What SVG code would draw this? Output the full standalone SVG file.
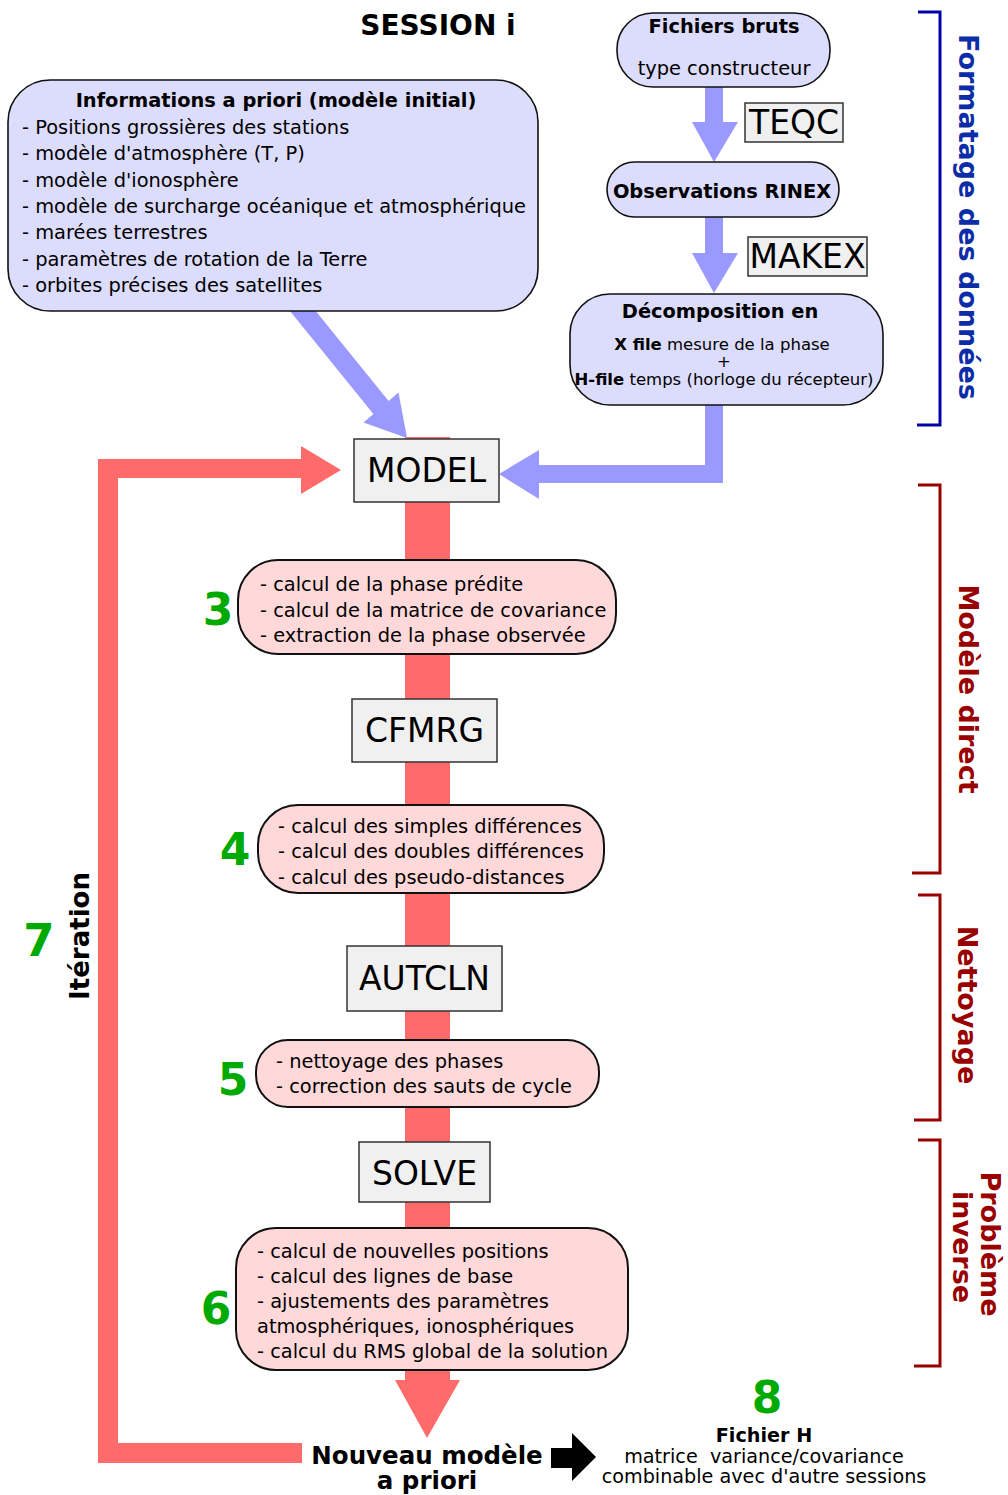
<svg xmlns="http://www.w3.org/2000/svg" width="1008" height="1495" viewBox="0 0 1008 1495">
<style>
text{font-family:"DejaVu Sans","Liberation Sans",sans-serif;fill:#000}
.b{font-weight:bold}
.t19{font-size:19.4px}
.t16{font-size:16.5px}
.prog{fill:#f0f0f0;stroke:#333;stroke-width:1.5}
.prog-t{font-size:33px;text-anchor:middle}
.blue{fill:#dcdcfc;stroke:#111;stroke-width:1.6}
.pink{fill:#ffd9d9;stroke:#111;stroke-width:2}
.num{font-size:44px;font-weight:bold;fill:#00aa00;text-anchor:middle}
.mid{text-anchor:middle}
.barB{fill:none;stroke:#0000aa;stroke-width:3}
.barR{fill:none;stroke:#990000;stroke-width:3}
.side{font-size:27px;font-weight:bold;text-anchor:middle}
</style>

<g id="connectors">
  <!-- red main flow -->
  <rect x="405" y="437" width="45" height="945" fill="#ff6b6b"/>
  <polygon points="395,1380 460,1380 427,1438" fill="#ff6b6b"/>
  <!-- red iteration loop -->
  <polygon points="98,459 301,459 301,446 341,470 301,494 301,478 118,478 118,1443 302,1443 302,1463 98,1463" fill="#ff6b6b"/>
  <!-- blue arrows -->
  <rect x="705" y="80" width="18" height="44" fill="#9999ff"/>
  <polygon points="692,122 738,122 714,162" fill="#9999ff"/>
  <rect x="705" y="210" width="18" height="45" fill="#9999ff"/>
  <polygon points="692,253 738,253 714,293" fill="#9999ff"/>
  <polygon points="705,400 723,400 723,483 539,483 539,499 499,474 539,450 539,465 705,465" fill="#9999ff"/>
  <polygon points="305.6,298.5 388.6,401.1 398.5,392.6 407,438 363.5,422.6 373.4,414.1 290.4,311.5" fill="#9999ff"/>
  <!-- black arrow to H file -->
  <polygon points="551,1448 572,1448 572,1433 596,1457 572,1481 572,1468 551,1468" fill="#000"/>
</g>

<text class="b mid" x="438" y="35" style="font-size:28px">SESSION i</text>

<g id="fichiers-bruts">
  <rect class="blue" x="617" y="13" width="213" height="74" rx="36"/>
  <text class="b t19 mid" x="724" y="33">Fichiers bruts</text>
  <text class="t19 mid" x="724" y="75">type constructeur</text>
</g>
<g id="teqc">
  <rect class="prog" x="745" y="103" width="98" height="39"/>
  <text class="prog-t" x="794" y="134">TEQC</text>
</g>
<g id="observations-rinex">
  <rect class="blue" x="607" y="162" width="232" height="55" rx="27.5"/>
  <text class="b t19 mid" x="722" y="198">Observations RINEX</text>
</g>
<g id="makex">
  <rect class="prog" x="748" y="237" width="119" height="39"/>
  <text class="prog-t" x="807.5" y="268">MAKEX</text>
</g>
<g id="decomposition">
  <rect class="blue" x="570" y="294" width="313" height="111" rx="40"/>
  <text class="b t19 mid" x="720" y="318">Décomposition en</text>
  <text class="t16 mid" x="722" y="350"><tspan class="b">X file</tspan> mesure de la phase</text>
  <text class="t16 mid" x="724" y="367">+</text>
  <text class="t16 mid" x="724" y="385"><tspan class="b">H-file</tspan> temps (horloge du récepteur)</text>
</g>

<g id="informations-a-priori">
  <rect class="blue" x="8" y="80" width="530" height="231" rx="42"/>
  <text class="b t19 mid" x="276" y="107">Informations a priori (modèle initial)</text>
  <text class="t19" x="22" y="134">- Positions grossières des stations</text>
  <text class="t19" x="22" y="160">- modèle d'atmosphère (T, P)</text>
  <text class="t19" x="22" y="187">- modèle d'ionosphère</text>
  <text class="t19" x="22" y="213">- modèle de surcharge océanique et atmosphérique</text>
  <text class="t19" x="22" y="239">- marées terrestres</text>
  <text class="t19" x="22" y="266">- paramètres de rotation de la Terre</text>
  <text class="t19" x="22" y="292">- orbites précises des satellites</text>
</g>

<g id="model">
  <rect class="prog" x="354" y="439" width="145" height="63"/>
  <text class="prog-t" x="426.5" y="482">MODEL</text>
</g>
<g id="step3">
  <rect class="pink" x="238" y="560" width="378" height="94" rx="40"/>
  <text class="t19" x="260" y="591">- calcul de la phase prédite</text>
  <text class="t19" x="260" y="617">- calcul de la matrice de covariance</text>
  <text class="t19" x="260" y="642">- extraction de la phase observée</text>
  <text class="num" x="218" y="625">3</text>
</g>
<g id="cfmrg">
  <rect class="prog" x="352" y="699" width="145" height="63"/>
  <text class="prog-t" x="424.5" y="742">CFMRG</text>
</g>
<g id="step4">
  <rect class="pink" x="258" y="805" width="346" height="88" rx="40"/>
  <text class="t19" x="278" y="833">- calcul des simples différences</text>
  <text class="t19" x="278" y="858">- calcul des doubles différences</text>
  <text class="t19" x="278" y="884">- calcul des pseudo-distances</text>
  <text class="num" x="235" y="865">4</text>
</g>
<g id="autcln">
  <rect class="prog" x="347" y="946" width="155" height="65"/>
  <text class="prog-t" x="424.5" y="990">AUTCLN</text>
</g>
<g id="step5">
  <rect class="pink" x="256" y="1040" width="343" height="67" rx="32"/>
  <text class="t19" x="276" y="1068">- nettoyage des phases</text>
  <text class="t19" x="276" y="1093">- correction des sauts de cycle</text>
  <text class="num" x="233" y="1095">5</text>
</g>
<g id="solve">
  <rect class="prog" x="359" y="1142" width="131" height="60"/>
  <text class="prog-t" x="424.5" y="1185">SOLVE</text>
</g>
<g id="step6">
  <rect class="pink" x="236" y="1228" width="392" height="142" rx="40"/>
  <text class="t19" x="257" y="1258">- calcul de nouvelles positions</text>
  <text class="t19" x="257" y="1283">- calcul des lignes de base</text>
  <text class="t19" x="257" y="1308">- ajustements des paramètres</text>
  <text class="t19" x="257" y="1333">atmosphériques, ionosphériques</text>
  <text class="t19" x="257" y="1358">- calcul du RMS global de la solution</text>
  <text class="num" x="216" y="1324">6</text>
</g>

<g id="iteration">
  <text class="num" x="39" y="956" style="font-size:45px">7</text>
  <text class="b mid" transform="translate(89,936) rotate(-90)" style="font-size:26px">Itération</text>
</g>

<g id="nouveau-modele">
  <text class="b mid" x="427" y="1464" style="font-size:24.5px">Nouveau modèle</text>
  <text class="b mid" x="427" y="1489" style="font-size:24.5px">a priori</text>
</g>
<g id="fichier-h">
  <text class="num" x="767" y="1413">8</text>
  <text class="b mid" x="764" y="1442" style="font-size:19.2px">Fichier H</text>
  <text class="mid" x="764" y="1463" style="font-size:19.2px" xml:space="preserve">matrice  variance/covariance</text>
  <text class="mid" x="764" y="1483" style="font-size:19.2px">combinable avec d'autre sessions</text>
</g>

<g id="phases">
  <polyline class="barB" points="918,12 940,12 940,425 917,425"/>
  <text class="side" transform="translate(959,217) rotate(90)" style="fill:#0d2da8">Formatage des données</text>
  <polyline class="barR" points="918,485 940,485 940,873 912,873"/>
  <text class="side" transform="translate(959,689) rotate(90)" style="fill:#990000">Modèle direct</text>
  <polyline class="barR" points="918,895 940,895 940,1120 914,1120"/>
  <text class="side" transform="translate(958,1005) rotate(90)" style="fill:#990000">Nettoyage</text>
  <polyline class="barR" points="918,1140 940,1140 940,1366 914,1366"/>
  <text class="side" transform="translate(981,1244) rotate(90)" style="fill:#990000">Problème</text>
  <text class="side" transform="translate(953,1247) rotate(90)" style="fill:#990000">inverse</text>
</g>
</svg>
